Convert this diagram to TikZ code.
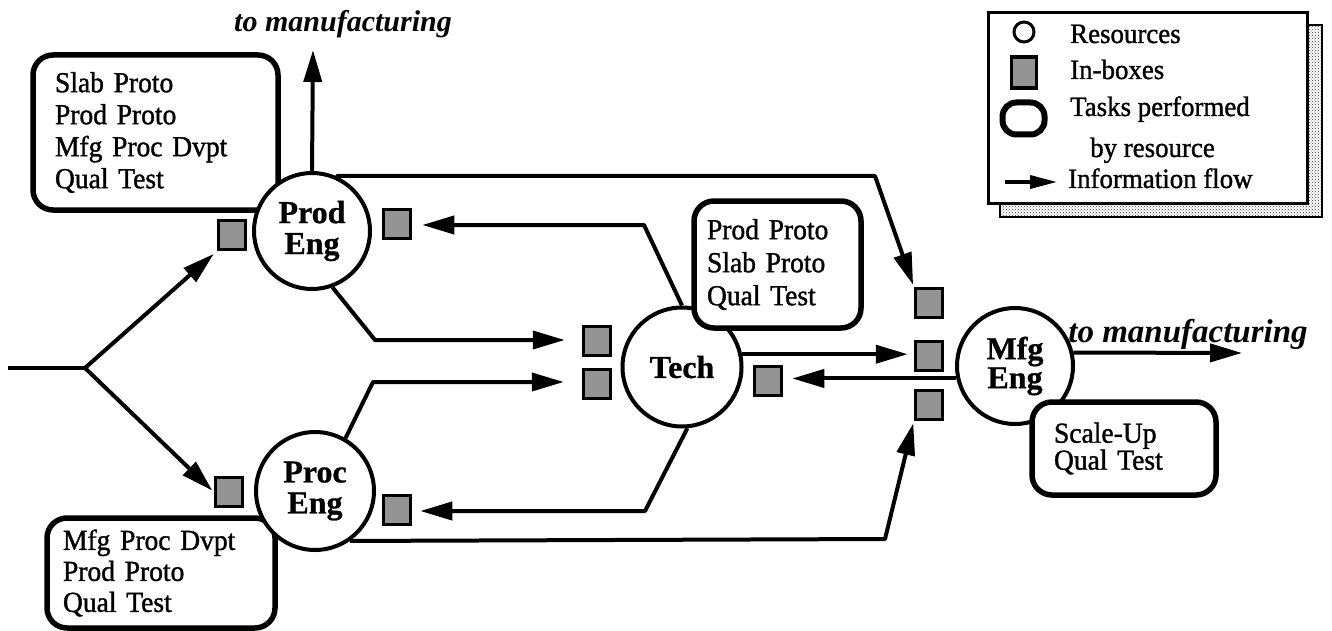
\documentclass[tikz,border=0pt]{standalone}
\usepackage{fontspec}
\setmainfont{Liberation Serif}
\newfontfamily\tfont{Liberation Serif}[FakeBold=1.2,FakeStretch=0.95,WordSpace=0.6]
\newfontfamily\lfont{Liberation Serif}[FakeBold=1.2,FakeStretch=0.96]
\newfontfamily\bfont{Liberation Serif Bold}[FakeBold=0.8]
\usetikzlibrary{arrows.meta,patterns}
\begin{document}
\begin{tikzpicture}[x=1pt,y=-1pt,
  res/.style={circle,draw,line width=4pt,fill=white,inner sep=0pt,align=center,
    font=\fontsize{32}{31}\bfont},
  inbox/.style={rectangle,draw,line width=3.5pt,fill=black!42,inner sep=0pt,
    minimum width=27pt,minimum height=29pt},
  tasks/.style={rectangle,draw,line width=5.5pt,rounded corners=20pt,fill=white,
    align=left,inner ysep=0pt,font=\fontsize{29}{32}\tfont},
  line/.style={line width=4pt},
  flow/.style={line width=4pt,-{Triangle[length=32pt,width=18pt]}},
  lbl/.style={anchor=base west,inner sep=0pt,font=\fontsize{28}{28}\lfont},
  tomfg/.style={anchor=base,inner sep=0pt},
]
\useasboundingbox (0,0) rectangle (1332,631);

% task boxes behind circles
\node[tasks,minimum width=245pt,minimum height=155pt,inner xsep=22pt,text width=201pt]
  (tprod) at (155.5,132.5) {Slab Proto\\Prod Proto\\Mfg Proc Dvpt\\Qual Test};
\node[tasks,minimum width=228pt,minimum height=110pt,inner xsep=16pt,text width=196pt,
  font=\fontsize{29}{31}\tfont]
  (tproc) at (161,573) {Mfg Proc Dvpt\\Prod Proto\\Qual Test};

% resources
\node[res,minimum size=116pt] (prod) at (312,231) {Prod\\Eng};
\node[res,minimum size=118pt] (proc) at (315,491) {Proc\\Eng};
\node[res,minimum size=119pt] (tech) at (682,367) {Tech};
\node[res,minimum size=116pt,font=\fontsize{32}{29}\bfont] (mfg) at (1015,366) {Mfg\\Eng};

% task boxes over circles
\node[tasks,minimum width=167pt,minimum height=127pt,inner xsep=13pt,text width=141pt,
  font=\fontsize{29}{33}\tfont]
  (ttech) at (777.5,264.5) {Prod Proto\\Slab Proto\\Qual Test};
\node[tasks,minimum width=184pt,minimum height=93pt,inner xsep=22pt,text width=140pt,
  font=\fontsize{29}{27}\tfont]
  (tmfg) at (1124,448.5) {Scale-Up\\Qual Test};

% in-boxes
\node[inbox] (ibProdL) at (232,235) {};
\node[inbox] (ibProdR) at (397,224) {};
\node[inbox] (ibProcL) at (229,492) {};
\node[inbox] (ibProcR) at (397,510) {};
\node[inbox] (ibTechL1) at (597,341) {};
\node[inbox] (ibTechL2) at (597,384) {};
\node[inbox] (ibTechR) at (768,381) {};
\node[inbox] (ibMfgT) at (929,303) {};
\node[inbox] (ibMfgM) at (929,356) {};
\node[inbox] (ibMfgB) at (929,405) {};

% outputs
\coordinate (out1) at (313,50);
\coordinate (out2) at (1242,353);
\node[tomfg,font=\fontsize{30}{30}\selectfont\bfseries\itshape] (tm1) at (343,32) {to manufacturing};
\node[tomfg,font=\fontsize{33}{33}\selectfont\bfseries\itshape] (tm2) at (1188,342) {to manufacturing};

% bend points
\coordinate (in) at (8,368);
\coordinate (br) at (85,368);
\coordinate (p1) at (875,176);
\coordinate (p2) at (375,340);
\coordinate (p3) at (373,382);
\coordinate (p4) at (885,539);
\coordinate (t1) at (644,225);
\coordinate (t2) at (645,511);

% connectors
\draw[line,line join=round] (in) -- (br);
\draw[flow,shorten >=4pt] (br) -- (ibProdL.south west);
\draw[flow,shorten >=2pt] (br) -- (ibProcL.west);
\draw[flow] (prod.north) -- (out1);
\draw[flow,line join=round,shorten >=2pt] (prod.65) |- (p1) -- (ibMfgT.north west);
\draw[flow,line join=round,shorten >=10pt] (tech.north) -- (t1) -- (t1 -| ibProdR.east);
\draw[flow,line join=round,shorten >=17pt] (prod.-70) -- (p2) -- (p2 -| ibTechL1.west);
\draw[flow,line join=round,shorten >=18pt] (proc.60) -- (p3) -- (p3 -| ibTechL2.west);
\draw[flow,line join=round,shorten >=8pt] (tech.-85) -- (t2) -- (t2 -| ibProcR.east);
\draw[flow,line join=round,shorten >=2pt] (proc.-55) -- (p4) -- (ibMfgB.south west);
\draw[flow,shorten >=6pt] (tech.12) -- (tech.12 -| ibMfgM.west);
\draw[flow,shorten >=9pt] (mfg.192) -- (mfg.192 -| ibTechR.east);
\draw[flow] (mfg.13) -- (out2);

% legend
\node[rectangle,draw,line width=1.2pt,pattern=crosshatch dots,pattern color=black!75,
  minimum width=322pt,minimum height=192pt,inner sep=0pt] (lshadow) at (1161,121) {};
\node[rectangle,draw,line width=3pt,fill=white,minimum width=319pt,minimum height=190pt,
  inner sep=0pt] (legend) at (1147.5,108) {};
\node[circle,draw,line width=3pt,minimum size=20pt,inner sep=0pt] (lres) at (1024,32) {};
\node[inbox,minimum width=25pt,minimum height=31pt] (lin) at (1024,72.5) {};
\node[rectangle,draw,line width=6pt,rounded corners=14pt,minimum width=42pt,
  minimum height=32pt,inner sep=0pt] (ltask) at (1023.5,118.5) {};
\coordinate (la1) at (1005,182);
\coordinate (la2) at (1057,182);
\draw[line width=3.5pt,-{Triangle[length=27pt,width=13pt]}] (la1) -- (la2);
\node[lbl] (l1) at (1070,43) {Resources};
\node[lbl] (l2) at (1070,79) {In-boxes};
\node[lbl] (l3) at (1070,116) {Tasks performed};
\node[lbl] (l4) at (1090,157) {by resource};
\node[lbl] (l5) at (1068,188) {Information flow};
\end{tikzpicture}
\end{document}
